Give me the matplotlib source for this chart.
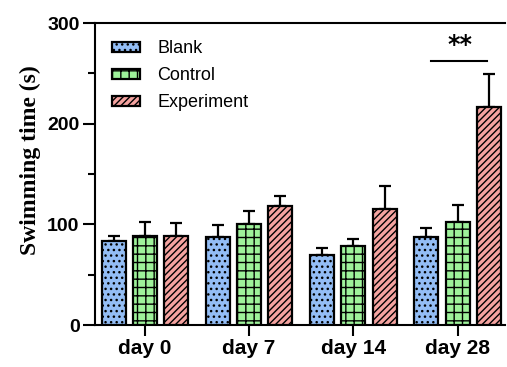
import matplotlib.pyplot as plt
import numpy as np

plt.rcParams['hatch.linewidth'] = 1.0

# Swimming time per group and day (mean and SD, seconds)
days = ['day 0', 'day 7', 'day 14', 'day 28']
groups = ['Blank', 'Control', 'Experiment']
blank = [84, 88, 70, 88]
blank_sd = [5, 11, 7, 9]
control = [89, 100, 79, 102]
control_sd = [13, 13, 7, 17]
experiment = [89, 118, 115, 217]
experiment_sd = [12, 10, 23, 32]

colors = ['#93bdf5', '#9ef29a', '#f5a3a0']
hatches = ['...', '++', '/////']

fig = plt.figure(figsize=(5.07, 3.67), dpi=100)
ax = fig.add_axes([0.187, 0.114, 0.809, 0.823])

x = np.arange(len(days))
width = 0.23
step = 0.30

for i, (vals, sd) in enumerate([(blank, blank_sd), (control, control_sd),
                                (experiment, experiment_sd)]):
    pos = x + (i - 1) * step
    ax.bar(pos, vals, width, color=colors[i], edgecolor='black',
           linewidth=1.6, hatch=hatches[i], label=groups[i], zorder=3)
    ax.errorbar(pos, vals, yerr=[np.zeros(len(sd)), sd], fmt='none',
                ecolor='black', elinewidth=1.6, capsize=4.5, capthick=1.6,
                zorder=2)

# significance marker over day 28
ax.plot([3 - 0.25, 3 + 0.28], [262, 262], color='black', lw=1.5)
ax.text(3 + 0.02, 266, '**', ha='center', va='bottom', fontsize=17,
        fontweight='bold', family='DejaVu Sans')

ax.set_xlim(-0.48, 3.455)
ax.set_ylim(0, 300)
ax.set_xticks(x)
ax.set_xticklabels(days, fontsize=15, fontweight='bold', family='Liberation Sans')
ax.set_yticks([0, 100, 200, 300])
ax.set_yticks([50, 150, 250], minor=True)
ax.set_yticklabels(['0', '100', '200', '300'], fontsize=14, fontweight='bold',
                   family='Liberation Sans')
ax.tick_params(axis='y', which='major', length=9, width=1.5, pad=2)
ax.tick_params(axis='y', which='minor', length=5, width=1.5)
ax.tick_params(axis='x', which='major', length=8, width=1.5, pad=2)

ax.set_ylabel('Swimming time (s)', fontsize=17, fontweight='bold',
              family='Liberation Serif')
ax.yaxis.set_label_coords(-0.13, 0.545)

for side in ['left', 'bottom', 'top']:
    ax.spines[side].set_linewidth(1.5)
ax.spines['right'].set_visible(False)

ax.legend(loc='upper left', frameon=False, prop={'family': 'Liberation Sans', 'size': 13},
          handlelength=1.6, handleheight=0.45, handletextpad=0.95,
          labelspacing=0.55, bbox_to_anchor=(0.01, 0.985), borderaxespad=0.3)

fig.savefig('out.png', dpi=100)
